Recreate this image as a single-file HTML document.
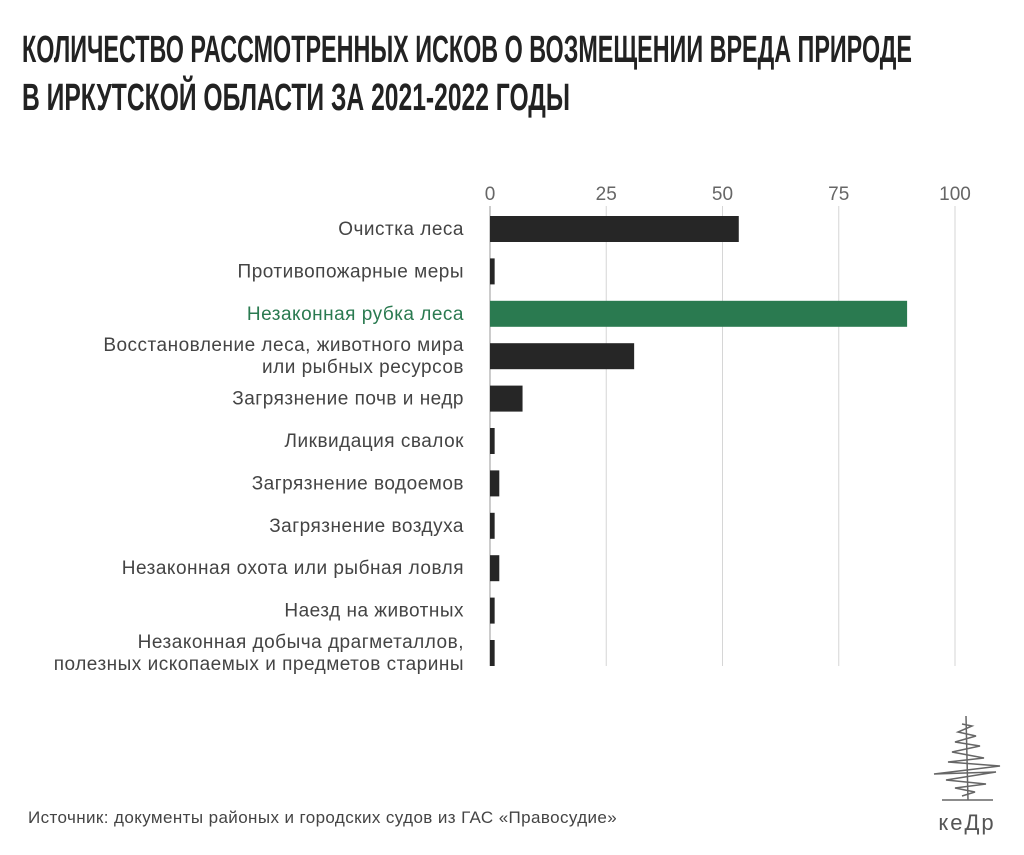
<!DOCTYPE html>
<html><head><meta charset="utf-8">
<style>
body{margin:0;background:#fff;width:1024px;height:850px;overflow:hidden;font-family:"Liberation Sans","DejaVu Sans",sans-serif}
</style></head>
<body>
<svg width="1024" height="850" xmlns="http://www.w3.org/2000/svg">
<g id="title" font-family="Liberation Sans, sans-serif" font-weight="bold" fill="#222">
<text x="22" y="62" font-size="38" textLength="890" lengthAdjust="spacingAndGlyphs">КОЛИЧЕСТВО РАССМОТРЕННЫХ ИСКОВ О ВОЗМЕЩЕНИИ ВРЕДА ПРИРОДЕ</text>
<text x="22" y="110" font-size="38" textLength="548" lengthAdjust="spacingAndGlyphs">В ИРКУТСКОЙ ОБЛАСТИ ЗА 2021-2022 ГОДЫ</text>
</g>
<g id="grid"></g>
<g id="bars"></g>
<g id="labels"></g>
<text x="28" y="823" font-size="17" letter-spacing="0.4" fill="#444">Источник: документы районых и городских судов из ГАС «Правосудие»</text>
<g stroke="#666" fill="none" stroke-width="1.5">
<line x1="942" y1="800" x2="993" y2="800"/>
<path d="M966 716 L968 800"/>
<path d="M962 724 L972 726 L958 732 L976 736 L955 742 L980 746 L952 752 L984 758 L948 762 L1000 766 L934 774 L996 772 L946 780 L986 784 L955 788 L975 792 L962 796"/>
<text x="967" y="830" font-size="22" fill="#555" stroke="none" text-anchor="middle" letter-spacing="2">кеДр</text>
</g>
</svg>
<script>
const categories=[["Очистка леса"],["Противопожарные меры"],["Незаконная рубка леса"],["Восстановление леса, животного мира","или рыбных ресурсов"],["Загрязнение почв и недр"],["Ликвидация свалок"],["Загрязнение водоемов"],["Загрязнение воздуха"],["Незаконная охота или рыбная ловля"],["Наезд на животных"],["Незаконная добыча драгметаллов,","полезных ископаемых и предметов старины"]];
const values=[53.5,1,89.7,31,7,1,2,1,2,1,1];
const ticks=[0,25,50,75,100];
const highlight=2;
const NS="http://www.w3.org/2000/svg";
const x=v=>490+v*4.65;
const y=i=>229+i*42.4;
function el(t,a,p){const e=document.createElementNS(NS,t);for(const k in a)e.setAttribute(k,a[k]);p.appendChild(e);return e;}
const grid=document.getElementById('grid'),bars=document.getElementById('bars'),labels=document.getElementById('labels');
ticks.forEach(t=>{
  const l=el('line',{x1:x(t),x2:x(t),y1:206,y2:666,stroke:t===0?'#999':'#d6d6d6','stroke-width':1},grid);
  
  
  const tx=el('text',{x:x(t),y:200,'font-size':19,fill:'#666','text-anchor':'middle'},grid);
  tx.textContent=t;
  
  
});
values.forEach((v,i)=>{
  const r=el('rect',{x:x(0),y:y(i)-13,width:x(v)-x(0),height:26,fill:i===highlight?'#2a7a50':'#262626'},bars);
  
  
  const lines=categories[i];
  lines.forEach((s,j)=>{
    const t=el('text',{x:464,y:y(i)+6+(j-(lines.length-1)/2)*22,'font-size':19,'letter-spacing':0.5,fill:i===highlight?'#2a7a50':'#444','text-anchor':'end'},labels);
    t.textContent=s;
    
    
  });
});
</script>
</body></html>
